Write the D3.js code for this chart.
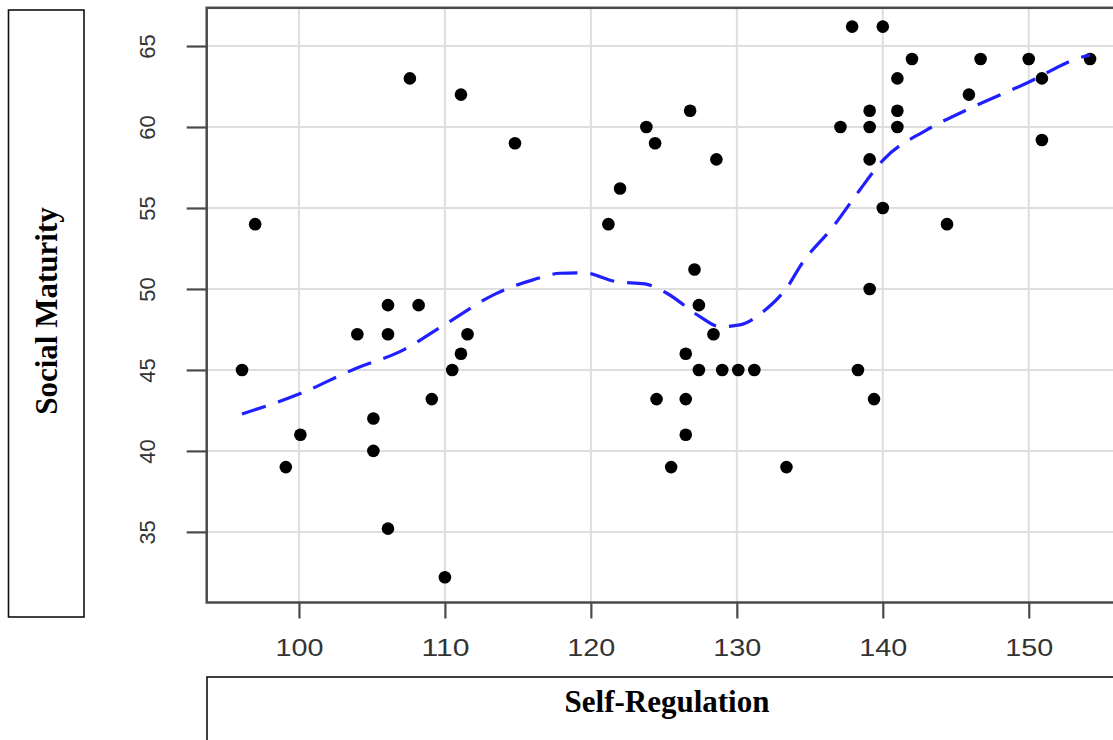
<!DOCTYPE html>
<html>
<head>
<meta charset="utf-8">
<script src="https://cdn.jsdelivr.net/npm/d3@7"></script>
<style>
  html, body { margin: 0; padding: 0; background: #fff; }
  svg { display: block; }
</style>
</head>
<body>
<svg id="chart" width="1113" height="740"></svg>
<script>
// ---- data ----
const xTicks = [100, 110, 120, 130, 140, 150];
const yTicks = [35, 40, 45, 50, 55, 60, 65];

const selfRegulation = [
  96.1, 97.0, 99.1, 100.1, 104.0, 105.1, 105.1, 106.1, 106.1, 106.1,
  107.6, 108.2, 109.1, 110.0, 110.5, 111.1, 111.1, 111.55, 114.8, 121.2,
  122.0, 123.8, 124.4, 124.5, 125.5, 126.5, 126.5, 126.5, 126.8, 127.1,
  127.4, 127.4, 128.4, 128.6, 129.0, 130.1, 131.2, 133.4, 137.1, 137.9,
  138.3, 139.1, 139.1, 139.1, 139.1, 139.4, 140.0, 140.0, 141.0, 141.0,
  141.0, 142.0, 144.4, 145.9, 146.7, 150.0, 150.9, 150.9, 154.2
];
const socialMaturity = [
  45.0, 54.0, 39.0, 41.0, 47.2, 42.0, 40.0, 49.0, 47.2, 35.2,
  63.0, 49.0, 43.2, 32.2, 45.0, 46.0, 62.0, 47.2, 59.0, 54.0,
  56.2, 60.0, 59.0, 43.2, 39.0, 46.0, 43.2, 41.0, 61.0, 51.2,
  49.0, 45.0, 47.2, 58.0, 45.0, 45.0, 45.0, 39.0, 60.0, 66.2,
  45.0, 61.0, 60.0, 58.0, 50.0, 43.2, 66.2, 55.0, 63.0, 61.0,
  60.0, 64.2, 54.0, 62.0, 64.2, 64.2, 63.0, 59.2, 64.2
];

// smoothed trend (blue dashed)
const trendX = [96.1, 100.14, 104.02, 106.92, 110.12, 113.54, 116.03, 117.88, 119.47, 121.76,
  123.70, 125.18, 127.47, 128.84, 130.21, 131.80, 133.63, 134.32, 136.60, 138.42,
  140.02, 142.99, 145.73, 149.84, 153.72, 154.2];
const trendY = [42.28, 43.56, 45.14, 46.13, 47.88, 49.73, 50.56, 50.97, 51.0, 50.45,
  50.31, 49.75, 48.29, 47.67, 47.78, 48.60, 50.35, 51.38, 53.85, 56.11,
  57.96, 59.81, 61.05, 62.70, 64.34, 64.44];

const xLabel = "Self-Regulation";
const yLabel = "Social Maturity";

// ---- layout ----
const svg = d3.select("#chart");
const plot = { left: 206.7, right: 1121, top: 7.8, bottom: 602.5 };

const x = d3.scaleLinear().domain([93.68, 156.32]).range([plot.left, plot.right]);
const y = d3.scaleLinear().domain([30.64, 67.36]).range([plot.bottom, plot.top]);

svg.append("defs").append("clipPath").attr("id", "clip")
  .append("rect")
  .attr("x", plot.left).attr("y", plot.top)
  .attr("width", plot.right - plot.left).attr("height", plot.bottom - plot.top);

// grid
const grid = svg.append("g").attr("clip-path", "url(#clip)");
grid.selectAll("line.vg").data(xTicks).join("line")
  .attr("class", "vg")
  .attr("x1", d => x(d)).attr("x2", d => x(d))
  .attr("y1", plot.top).attr("y2", plot.bottom)
  .attr("stroke", "#dedede").attr("stroke-width", 2);
grid.selectAll("line.hg").data(yTicks).join("line")
  .attr("class", "hg")
  .attr("x1", plot.left).attr("x2", plot.right)
  .attr("y1", d => y(d)).attr("y2", d => y(d))
  .attr("stroke", "#dedede").attr("stroke-width", 2);

// points
const pts = selfRegulation.map((v, i) => ({ x: v, y: socialMaturity[i] }));
grid.selectAll("circle").data(pts).join("circle")
  .attr("cx", d => x(d.x)).attr("cy", d => y(d.y))
  .attr("r", 6.3).attr("fill", "#000");

// trend line
const trend = trendX.map((v, i) => [v, trendY[i]]);
grid.append("path")
  .datum(trend)
  .attr("d", d3.line().x(d => x(d[0])).y(d => y(d[1])).curve(d3.curveMonotoneX))
  .attr("fill", "none")
  .attr("stroke", "#1f1fff")
  .attr("stroke-width", 3.2)
  .attr("stroke-dasharray", "25,13");

// frame
svg.append("rect")
  .attr("x", plot.left).attr("y", plot.top)
  .attr("width", plot.right - plot.left).attr("height", plot.bottom - plot.top)
  .attr("fill", "none").attr("stroke", "#4a4a4a").attr("stroke-width", 2.5);

// axes
const xAxis = d3.axisBottom(x).tickValues(xTicks).tickSize(16).tickSizeOuter(0).tickPadding(20);
const gx = svg.append("g").attr("transform", `translate(0,${plot.bottom})`).call(xAxis);
gx.select(".domain").remove();
gx.selectAll(".tick line").attr("stroke", "#4a4a4a").attr("stroke-width", 2.2);
gx.selectAll(".tick text")
  .attr("y", 0).attr("dy", null)
  .attr("font-family", "'Liberation Sans', Arial, sans-serif")
  .attr("font-size", 23)
  .attr("fill", "#333")
  .attr("text-anchor", "middle")
  .attr("transform", "translate(0,53)")
  .attr("textLength", 48)
  .attr("lengthAdjust", "spacingAndGlyphs");

const yAxis = d3.axisLeft(y).tickValues(yTicks).tickSize(20).tickSizeOuter(0);
const gy = svg.append("g").attr("transform", `translate(${plot.left},0)`).call(yAxis);
gy.select(".domain").remove();
gy.selectAll(".tick line").attr("stroke", "#4a4a4a").attr("stroke-width", 2.2);
gy.selectAll(".tick text")
  .attr("x", 0).attr("dy", null)
  .attr("font-family", "'Liberation Sans', Arial, sans-serif")
  .attr("font-size", 22)
  .attr("fill", "#333")
  .attr("text-anchor", "middle")
  .attr("transform", "translate(-52,0) rotate(-90)");

// y label box
svg.append("rect")
  .attr("x", 8.5).attr("y", 10).attr("width", 75.5).attr("height", 607)
  .attr("fill", "none").attr("stroke", "#111").attr("stroke-width", 1.6);
svg.append("text")
  .attr("transform", "translate(57,311) rotate(-90)")
  .attr("text-anchor", "middle")
  .attr("font-family", "'Liberation Serif', 'Times New Roman', serif")
  .attr("font-weight", "bold")
  .attr("font-size", 31)
  .attr("fill", "#000")
  .text(yLabel);

// x label box
svg.append("rect")
  .attr("x", 207).attr("y", 677).attr("width", 1000).attr("height", 200)
  .attr("fill", "none").attr("stroke", "#111").attr("stroke-width", 1.6);
svg.append("text")
  .attr("x", 667).attr("y", 712)
  .attr("text-anchor", "middle")
  .attr("font-family", "'Liberation Serif', 'Times New Roman', serif")
  .attr("font-weight", "bold")
  .attr("font-size", 31)
  .attr("fill", "#000")
  .text(xLabel);
</script>
</body>
</html>
